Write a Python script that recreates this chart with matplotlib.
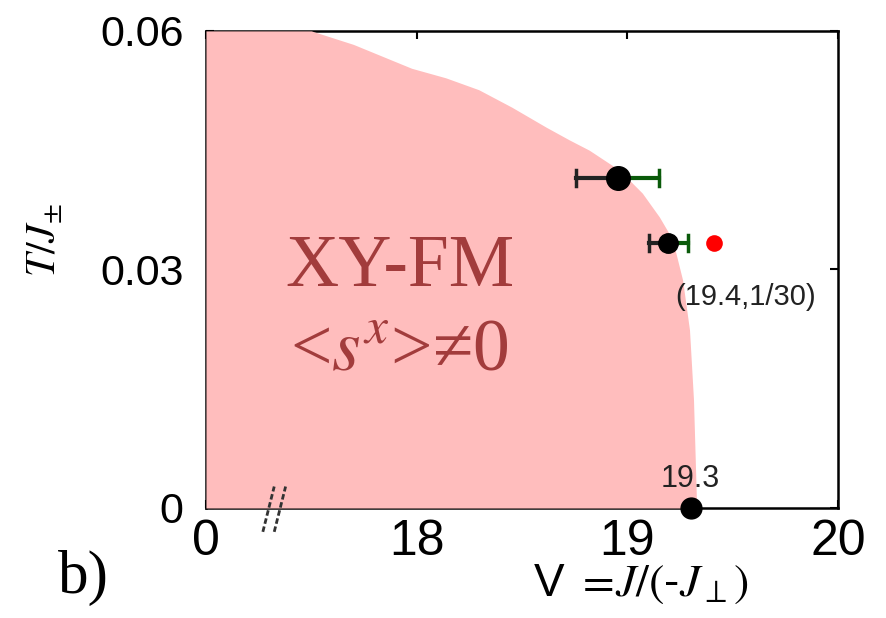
import numpy as np
import matplotlib
matplotlib.use("Agg")
from matplotlib import pyplot as plt

plt.rcParams['mathtext.fontset'] = 'stix'
plt.rcParams['font.family'] = ['Liberation Sans', 'DejaVu Sans']

# boundary of the XY-FM region (x in plotted units: left edge "0" sits at 17)
bx = [17.0, 17.5, 17.70, 17.976, 18.138, 18.295, 18.452, 18.614, 18.724, 18.819,
      18.962, 19.071, 19.152, 19.214, 19.262, 19.295, 19.314, 19.329]
by = [0.06, 0.06, 0.0583, 0.0553, 0.0541, 0.0526, 0.0504, 0.0479, 0.0463, 0.0450,
      0.0425, 0.0396, 0.0366, 0.0338, 0.0287, 0.0224, 0.0136, 0.0]

# transition points with error bars (left part black, right part green)
px = [18.957, 19.195]
py = [0.0415, 1/30]
err_lo = [0.20, 0.09]
err_hi = [0.195, 0.095]
msize = [17, 14]

red_x, red_y = 19.41, 1/30
gs_x, gs_y = 19.3, 0.0

xticks = [17, 18, 19, 20]
xticklabels = ['0', '18', '19', '20']
yticks = [0, 0.03, 0.06]
yticklabels = ['0', '0.03', '0.06']

fig = plt.figure(figsize=(8.87, 6.18), dpi=100)
ax = fig.add_axes([0.2322, 0.178, 0.7126, 0.772])

ax.fill_between(bx, 0, by, color='#ffbdbd', lw=0, zorder=3)

for i in range(len(px)):
    ax.plot([px[i] - err_lo[i], px[i]], [py[i], py[i]], color='#222222', lw=3, zorder=4)
    ax.plot([px[i], px[i] + err_hi[i]], [py[i], py[i]], color='#0a5a0a', lw=3, zorder=4)
    ax.plot([px[i] - err_lo[i]] * 2, [py[i] - 0.001, py[i] + 0.001], color='#222222', lw=2.5, zorder=4)
    ax.plot([px[i] + err_hi[i]] * 2, [py[i] - 0.001, py[i] + 0.001], color='#0a5a0a', lw=2.5, zorder=4)
    ax.plot(px[i], py[i], 'o', color='black', ms=msize[i], zorder=5)

ax.plot(red_x, red_y, 'o', color='red', ms=12, mec='none', zorder=5)
ax.plot(gs_x, gs_y, 'o', color='black', ms=15, zorder=6, clip_on=False)

ax.text(gs_x, 0.0017, '19.3', fontsize=22, ha='center', va='bottom', color='#222222', zorder=6)
ax.text(19.56, 0.0265, '(19.4,1/30)', fontsize=21, ha='center', va='center', color='#222222', zorder=6)

ax.text(17.92, 0.0302, 'XY-FM', family='Liberation Serif', fontsize=53, color='#a23c3c',
        ha='center', va='center', zorder=6)
ax.text(17.92, 0.0195, '<$s^x$>≠0', family='Liberation Serif', fontsize=53, color='#a23c3c',
        ha='center', va='center', zorder=6)

ax.set_xlim(17, 20)
ax.set_ylim(0, 0.06)
ax.set_xticks(xticks)
ax.set_xticklabels(xticklabels, fontsize=36)
ax.set_yticks(yticks)
ax.set_yticklabels(yticklabels, fontsize=31)
ax.tick_params(direction='in', length=6, width=1.5, top=True, right=True)
ax.tick_params(axis='x', pad=8)
ax.tick_params(axis='y', pad=16)
for s in ax.spines.values():
    s.set_linewidth(1.8)

# axis break mark
for dx in [0, 0.018]:
    ax.plot([0.09 + dx, 0.108 + dx], [-0.05, 0.045], transform=ax.transAxes,
            color='#333333', lw=2, ls=(0, (2, 1)), clip_on=False, zorder=7)

fig.text(0.05, 0.612, r'$T/J_{\pm}$', rotation=90, fontsize=30, ha='center', va='center')
fig.text(0.722, 0.055, r'V $=\!J/($-$J_{\perp})$', fontsize=33, ha='center', va='center')
fig.text(0.094, 0.065, 'b)', family='Liberation Serif', fontsize=44, ha='center', va='center')

fig.savefig('out.png', dpi=100)
